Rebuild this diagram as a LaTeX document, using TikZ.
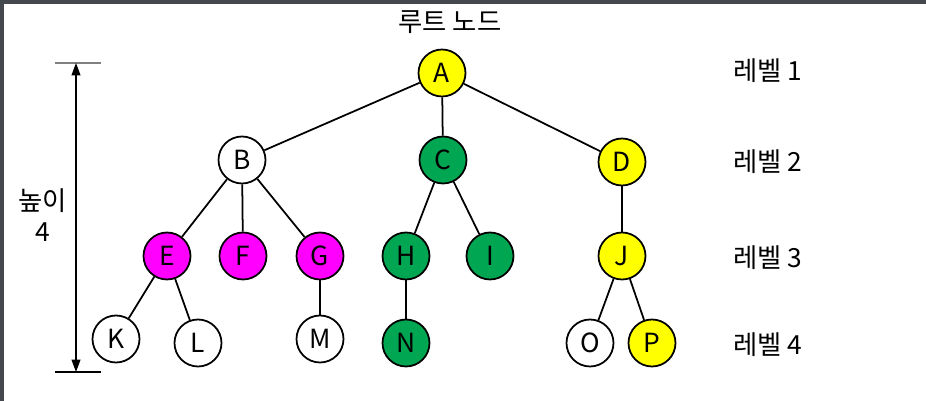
\documentclass[tikz,border=0pt]{standalone}
\usepackage{fontspec}
\setmainfont{Noto Sans CJK KR}
\usepackage{tikz}
\usetikzlibrary{arrows.meta}

\definecolor{nodeyellow}{RGB}{255,255,0}
\definecolor{nodegreen}{RGB}{0,166,81}
\definecolor{nodemagenta}{RGB}{255,0,255}
\definecolor{frameedge}{RGB}{69,72,76}

\begin{document}
\begin{tikzpicture}[
    x=0.02cm, y=-0.02cm,
    >={Triangle[length=7pt,width=5pt]},
    vertex/.style={draw, circle, line width=1pt, minimum size=0.94cm,
                   inner sep=0pt, font=\fontsize{15}{18}\selectfont},
    edge/.style={line width=1pt},
    levellabel/.style={font=\fontsize{15}{18}\selectfont, anchor=west},
  ]

  % === Canvas and frame ===
  \useasboundingbox (0,0) rectangle (926,401);
  \fill[white] (0,0) rectangle (926,401);
  \fill[frameedge] (0,0) rectangle (926,4);
  \fill[frameedge] (0,0) rectangle (4,401);

  % === Root caption ===
  \node[font=\fontsize{15}{18}\selectfont] (rootcap) at (450,22) {루트 노드};

  % === Level 1 ===
  \node[vertex, fill=nodeyellow] (A) at (442,73) {A};

  % === Level 2 ===
  \node[vertex, fill=white]      (B) at (242,160) {B};
  \node[vertex, fill=nodegreen]  (C) at (443,160) {C};
  \node[vertex, fill=nodeyellow] (D) at (622,162) {D};

  % === Level 3 ===
  \node[vertex, fill=nodemagenta] (E) at (167,256) {E};
  \node[vertex, fill=nodemagenta] (F) at (243,256) {F};
  \node[vertex, fill=nodemagenta] (G) at (320,256) {G};
  \node[vertex, fill=nodegreen]   (H) at (406,256) {H};
  \node[vertex, fill=nodegreen]   (I) at (490,256) {I};
  \node[vertex, fill=nodeyellow]  (J) at (622,256) {J};

  % === Level 4 ===
  \node[vertex, fill=white]      (K) at (116,339) {K};
  \node[vertex, fill=white]      (L) at (198,343) {L};
  \node[vertex, fill=white]      (M) at (320,339) {M};
  \node[vertex, fill=nodegreen]  (N) at (406,343) {N};
  \node[vertex, fill=white]      (O) at (590,343) {O};
  \node[vertex, fill=nodeyellow] (P) at (652,343) {P};

  % === Edges ===
  \foreach \u/\v in {A/B, A/C, A/D, B/E, B/F, B/G, C/H, C/I, D/J,
                     E/K, E/L, G/M, H/N, J/O, J/P}
    \draw[edge] (\u) -- (\v);

  % === Level labels ===
  \node[levellabel] (lv1) at (727,71)  {레벨 1};
  \node[levellabel] (lv2) at (727,162) {레벨 2};
  \node[levellabel] (lv3) at (727,258) {레벨 3};
  \node[levellabel] (lv4) at (727,345) {레벨 4};

  % === Height marker ===
  \coordinate (htop) at (76,63);
  \coordinate (hbot) at (76,372);
  \draw[gray, line width=0.8pt] ([xshift=-0.42cm]htop) -- ([xshift=0.5cm]htop);
  \draw[line width=0.8pt] ([xshift=-0.42cm]hbot) -- ([xshift=0.5cm]hbot);
  \draw[<->, line width=0.8pt] (htop) -- (hbot);
  \node[align=center, font=\fontsize{15}{18}\selectfont] (hlabel) at (43,215) {높이\\4};

\end{tikzpicture}
\end{document}
